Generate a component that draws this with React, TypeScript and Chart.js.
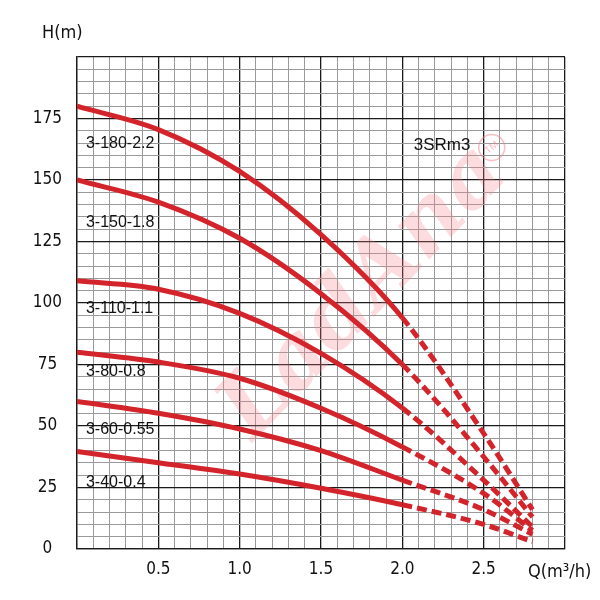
import React, { useEffect, useRef } from "react";
import { Chart, registerables } from "chart.js";

Chart.register(...registerables);

// Flow rate Q (m³/h); points at Q >= 2.0 are drawn dashed
const flow = [0, 0.5, 1.0, 1.5, 2.0, 2.5, 2.8];
const head180 = [180, 170.5, 153.5, 127.8, 94, 47, 16];
const head150 = [150, 141, 126.3, 103.8, 75, 37.5, 13];
const head110 = [109, 105.6, 95.8, 79.5, 57.3, 28, 9];
const head80 = [80, 76, 69.4, 57.2, 41.5, 22.6, 7.5];
const head60 = [60, 55.2, 48.8, 40, 28, 16, 6];
const head40 = [39.6, 35.1, 30.5, 24.7, 18, 10, 3];
const curveNames = ["3-180-2.2", "3-150-1.8", "3-110-1.1", "3-80-0.8", "3-60-0.55", "3-40-0.4"];
const curveHeads = [head180, head150, head110, head80, head60, head40];
const labelQ = [0.055, 0.055, 0.055, 0.055, 0.055, 0.055];
const labelH = [165, 132.5, 97.6, 72, 48.4, 26.8];
const dashedFrom = 2.0;
const xMin = 0, xMax = 3, xStep = 0.1, xMajor = 0.5;
const yMin = 0, yMax = 200, yStep = 5, yMajor = 25;
const modelName = "3SRm3";
const modelQ = 2.07;
const modelH = 164;
const watermark = "LadAna";

const RED = "rgb(211,36,44)";
const NARROW = '"Liberation Sans Narrow", "DejaVu Sans Condensed", "Liberation Sans", sans-serif';
const SANS = '"Liberation Sans", Arial, sans-serif';

const isMult = (v: number, m: number) => Math.abs(v / m - Math.round(v / m)) < 1e-6;

const decorPlugin = {
  id: "decor",
  beforeDatasetsDraw(chart: any) {
    const { ctx, chartArea } = chart;
    const cx = (chartArea.left + chartArea.right) / 2 + 44;
    const cy = (chartArea.top + chartArea.bottom) / 2 - 10;
    ctx.save();
    ctx.beginPath();
    ctx.rect(chartArea.left, chartArea.top, chartArea.right - chartArea.left, chartArea.bottom - chartArea.top);
    ctx.clip();
    ctx.translate(cx, cy);
    ctx.rotate((-46 * Math.PI) / 180);
    ctx.font = 'italic bold 100px "DejaVu Serif", serif';
    const w = ctx.measureText(watermark).width;
    const target = 370;
    ctx.scale(target / w, target / w);
    ctx.fillStyle = "rgba(245,130,140,0.28)";
    ctx.textAlign = "center";
    ctx.textBaseline = "middle";
    ctx.fillText(watermark, 0, 0);
    ctx.restore();

    // TM mark
    const tx = chart.scales.x.getPixelForValue(modelQ) + 78;
    const ty = chart.scales.y.getPixelForValue(modelH) + 2;
    ctx.save();
    ctx.strokeStyle = "rgba(245,130,140,0.5)";
    ctx.lineWidth = 1.5;
    ctx.beginPath();
    ctx.arc(tx, ty, 13, 0, Math.PI * 2);
    ctx.stroke();
    ctx.translate(tx, ty);
    ctx.rotate((-40 * Math.PI) / 180);
    ctx.fillStyle = "rgba(245,130,140,0.55)";
    ctx.font = `10px ${SANS}`;
    ctx.textAlign = "center";
    ctx.textBaseline = "middle";
    ctx.fillText("TM", 0, 0);
    ctx.restore();
  },
  afterDraw(chart: any) {
    const { ctx, chartArea, scales } = chart;
    ctx.save();
    ctx.fillStyle = "#111";
    ctx.textBaseline = "middle";
    ctx.textAlign = "left";
    ctx.font = `16px ${SANS}`;
    curveNames.forEach((name, i) => {
      ctx.fillText(name, scales.x.getPixelForValue(labelQ[i]), scales.y.getPixelForValue(labelH[i]));
    });
    ctx.font = `17px ${SANS}`;
    ctx.fillText(modelName, scales.x.getPixelForValue(modelQ), scales.y.getPixelForValue(modelH));
    ctx.font = `18px ${NARROW}`;
    ctx.fillText("H(m)", chartArea.left - 35, chartArea.top - 24);
    ctx.fillText("Q(m³/h)", chartArea.right - 37, chartArea.bottom + 23);
    ctx.restore();
  },
};

export default function App() {
  const ref = useRef<HTMLCanvasElement | null>(null);
  useEffect(() => {
    document.body.style.margin = "0";
    if (!ref.current) return;
    const datasets = curveHeads.map((heads, i) => ({
      label: curveNames[i],
      data: flow.map((q, j) => ({ x: q, y: heads[j] })),
      borderColor: RED,
      borderWidth: 5,
      pointRadius: 0,
      fill: false,
      cubicInterpolationMode: "monotone" as const,
      segment: {
        borderDash: (c: any) => (c.p0.parsed.x >= dashedFrom - 1e-6 ? [10, 5] : undefined),
      },
    }));
    const chart = new Chart(ref.current, {
      type: "line",
      data: { datasets },
      plugins: [decorPlugin],
      options: {
        animation: false,
        responsive: false,
        layout: { padding: { top: 57, right: 35, left: 0, bottom: 0 } },
        plugins: { legend: { display: false }, tooltip: { enabled: false } },
        scales: {
          x: {
            type: "linear",
            min: xMin,
            max: xMax,
            afterFit: (s: any) => {
              s.height = 51;
            },
            ticks: {
              stepSize: xStep,
              autoSkip: false,
              maxRotation: 0,
              padding: 10,
              color: "#111",
              font: { family: NARROW, size: 17 },
              callback: (v: any) => {
                const n = Number(v);
                if (!isMult(n, xMajor) || n <= xMin + 1e-6 || n >= xMax - 1e-6) return "";
                return n.toFixed(1);
              },
            },
            grid: {
              drawTicks: false,
              color: (c: any) => (isMult(c.tick.value, xMajor) ? "#1a1a1a" : "#9a9a9a"),
              lineWidth: (c: any) => (isMult(c.tick.value, xMajor) ? 1.3 : 1),
            },
            border: { color: "#1a1a1a", width: 1.3 },
          },
          y: {
            type: "linear",
            min: yMin,
            max: yMax,
            afterFit: (s: any) => {
              s.width = 77;
            },
            ticks: {
              stepSize: yStep,
              autoSkip: false,
              padding: 15,
              crossAlign: "center",
              color: "#111",
              font: { family: NARROW, size: 17 },
              callback: (v: any) => {
                const n = Number(v);
                if (!isMult(n, yMajor) || n >= yMax - 1e-6) return "";
                return String(n);
              },
            },
            grid: {
              drawTicks: false,
              color: (c: any) => (isMult(c.tick.value, yMajor) ? "#1a1a1a" : "#9a9a9a"),
              lineWidth: (c: any) => (isMult(c.tick.value, yMajor) ? 1.3 : 1),
            },
            border: { color: "#1a1a1a", width: 1.3 },
          },
        },
      },
    });
    return () => chart.destroy();
  }, []);
  return (
    <div style={{ width: 600, height: 600, background: "#fff" }}>
      <canvas ref={ref} width={600} height={600} />
    </div>
  );
}
